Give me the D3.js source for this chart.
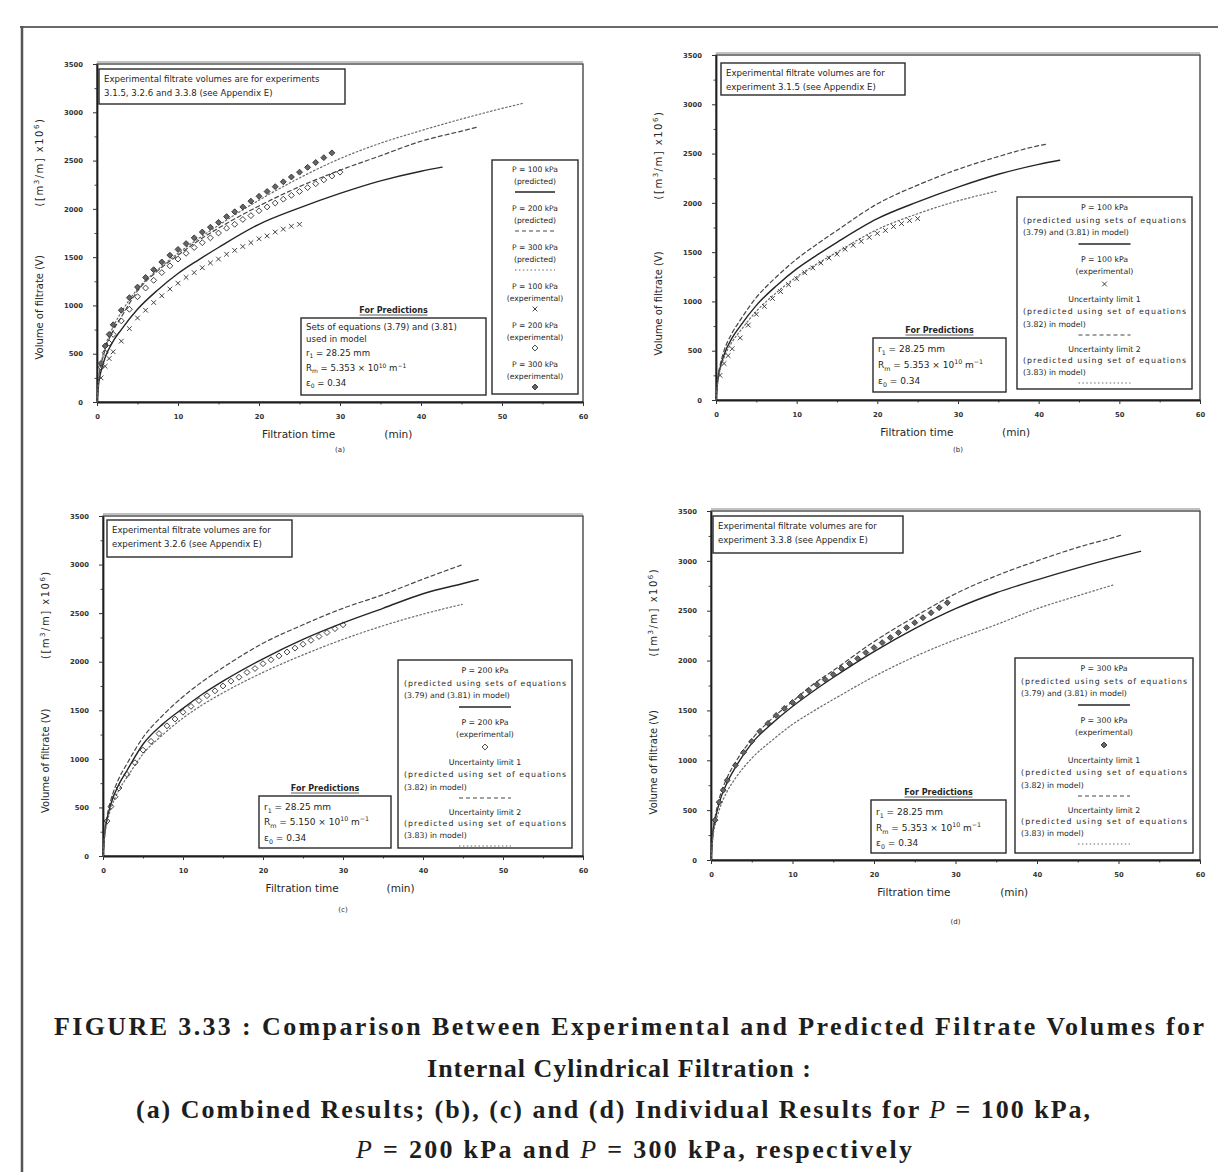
<!DOCTYPE html>
<html>
<head>
<meta charset="utf-8">
<script src="https://cdn.jsdelivr.net/npm/d3@7"></script>
<style>
  body { margin: 0; background: #fff; }
  svg { display: block; }
  .caption { font-family: 'Liberation Serif', 'Times New Roman', serif; }
</style>
</head>
<body>
<svg id="fig" width="1218" height="1172"></svg>
<script>
// ---------- axis ticks ----------
const timeTicks = [0, 10, 20, 30, 40, 50, 60];
const minorTimeTicks = [5, 15, 25, 35, 45, 55];
const volumeTicks = [0, 500, 1000, 1500, 2000, 2500, 3000, 3500];
const minorVolumeTicks = [250, 750, 1250, 1750, 2250, 2750, 3250];
const pressures = [100, 200, 300];

// ---------- P = 100 kPa (time in min, volume in [m3/m] x 1e6) ----------
const tPred100 = [0, 0.25, 0.5, 1, 2, 3, 5, 7.5, 10, 12.5, 15, 20, 25, 30, 35, 40, 42.6];
const vPred100 = [0, 220, 320, 460, 630, 750, 960, 1160, 1330, 1470, 1600, 1840, 2010, 2160, 2290, 2390, 2432];
const tLim1_100 = [0, 0.25, 0.5, 1, 2, 3, 5, 7.5, 10, 12.5, 15, 20, 25, 30, 35, 40, 40.9];
const vLim1_100 = [0, 240, 350, 500, 680, 810, 1040, 1250, 1430, 1580, 1720, 1990, 2180, 2340, 2470, 2580, 2595];
const tLim2_100 = [0, 0.25, 0.5, 1, 2, 3, 5, 7.5, 10, 12.5, 15, 20, 25, 30, 34.7];
const vLim2_100 = [0, 200, 300, 430, 590, 700, 900, 1090, 1250, 1380, 1500, 1730, 1890, 2020, 2116];
const tExp100 = [0.5, 1, 1.5, 2, 3, 4, 5, 6, 7, 8, 9, 10, 11, 12, 13, 14, 15, 16, 17, 18, 19, 20, 21, 22, 23, 24, 25];
const vExp100 = [250, 370, 450, 520, 630, 760, 870, 950, 1030, 1100, 1170, 1230, 1290, 1340, 1390, 1440, 1480, 1530, 1570, 1610, 1650, 1690, 1720, 1760, 1790, 1820, 1840];

// ---------- P = 200 kPa ----------
const tPred200 = [0, 0.25, 0.5, 1, 2, 3, 5, 7.5, 10, 12.5, 15, 20, 25, 30, 35, 40, 45, 46.9];
const vPred200 = [0, 260, 380, 540, 740, 880, 1150, 1360, 1520, 1670, 1800, 2030, 2230, 2400, 2550, 2700, 2805, 2845];
const tLim1_200 = [0, 0.25, 0.5, 1, 2, 3, 5, 7.5, 10, 12.5, 15, 20, 25, 30, 35, 40, 44.8];
const vLim1_200 = [0, 280, 410, 580, 800, 950, 1220, 1450, 1640, 1800, 1940, 2190, 2380, 2550, 2690, 2850, 2995];
const tLim2_200 = [0, 0.25, 0.5, 1, 2, 3, 5, 7.5, 10, 12.5, 15, 20, 25, 30, 35, 40, 44.9];
const vLim2_200 = [0, 230, 340, 490, 680, 810, 1050, 1250, 1420, 1560, 1680, 1890, 2070, 2230, 2370, 2490, 2590];
const tExp200 = [0.5, 1, 1.5, 2, 3, 4, 5, 6, 7, 8, 9, 10, 11, 12, 13, 14, 15, 16, 17, 18, 19, 20, 21, 22, 23, 24, 25, 26, 27, 28, 29, 30];
const vExp200 = [360, 510, 610, 700, 840, 960, 1090, 1180, 1260, 1340, 1410, 1480, 1540, 1600, 1650, 1700, 1750, 1800, 1840, 1890, 1930, 1980, 2020, 2060, 2100, 2140, 2180, 2220, 2260, 2300, 2340, 2380];

// ---------- P = 300 kPa ----------
const tPred300 = [0, 0.25, 0.5, 1, 2, 3, 5, 7.5, 10, 12.5, 15, 20, 25, 30, 35, 40, 45, 50, 52.7];
const vPred300 = [0, 280, 400, 570, 780, 930, 1170, 1370, 1540, 1690, 1830, 2090, 2320, 2520, 2680, 2810, 2930, 3040, 3095];
const tLim1_300 = [0, 0.25, 0.5, 1, 2, 3, 5, 7.5, 10, 12.5, 15, 20, 25, 30, 35, 40, 45, 50, 50.5];
const vLim1_300 = [0, 300, 430, 610, 830, 980, 1210, 1420, 1590, 1760, 1900, 2190, 2440, 2670, 2850, 3000, 3135, 3250, 3263];
const tLim2_300 = [0, 0.25, 0.5, 1, 2, 3, 5, 7.5, 10, 12.5, 15, 20, 25, 30, 35, 40, 45, 49.3];
const vLim2_300 = [0, 240, 350, 500, 690, 820, 1020, 1200, 1360, 1490, 1610, 1840, 2040, 2210, 2360, 2520, 2650, 2757];
const tExp300 = [0.5, 1, 1.5, 2, 3, 4, 5, 6, 7, 8, 9, 10, 11, 12, 13, 14, 15, 16, 17, 18, 19, 20, 21, 22, 23, 24, 25, 26, 27, 28, 29];
const vExp300 = [400, 580, 700, 800, 950, 1080, 1190, 1290, 1370, 1450, 1520, 1580, 1640, 1700, 1760, 1810, 1860, 1920, 1970, 2020, 2080, 2130, 2180, 2230, 2280, 2330, 2380, 2430, 2480, 2530, 2580];

// ---------- drawing ----------
const svg = d3.select('#fig');
const INK = '#262626';
const FONT = '"DejaVu Sans", sans-serif';

const lineStyles = {
  solid:  { stroke: '#252525', width: 1.4, dash: null },
  dashed: { stroke: '#474747', width: 1.2, dash: '4,3' },
  dotted: { stroke: '#6a6a6a', width: 1.2, dash: '1.5,2.4' }
};
const markerStyles = {
  cross:         { type: d3.symbolTimes,    size: 16, fill: 'none' },
  diamond:       { type: d3.symbolDiamond2, size: 22, fill: 'none' },
  diamondFilled: { type: d3.symbolDiamond2, size: 22, fill: '#666' }
};

function rich(g, x, y, parts, anchor, size, weight) {
  const t = g.append('text')
    .attr('x', x).attr('y', y)
    .attr('text-anchor', anchor || 'start')
    .attr('font-size', size)
    .attr('font-family', FONT)
    .attr('font-weight', weight || 'normal')
    .attr('fill', INK);
  let shift = 0;
  parts.forEach(p => {
    if (typeof p === 'string') {
      t.append('tspan').attr('dy', -shift).text(p);
      shift = 0;
    } else {
      const s = p.sup ? -size * 0.4 : size * 0.28;
      t.append('tspan').attr('dy', s - shift).attr('font-size', size * 0.7).text(p.sup || p.sub);
      shift = s;
    }
  });
  return t;
}

function drawLine(g, x, y, t, v, styleKey) {
  const st = lineStyles[styleKey];
  const gen = d3.line().x((d, i) => x(t[i])).y((d, i) => y(v[i])).curve(d3.curveMonotoneX);
  g.append('path').datum(v).attr('d', gen)
    .attr('fill', 'none').attr('stroke', st.stroke).attr('stroke-width', st.width)
    .attr('stroke-dasharray', st.dash).attr('stroke-linecap', 'round');
}

function drawMarkers(g, x, y, t, v, key) {
  const m = markerStyles[key];
  const sym = d3.symbol().type(m.type).size(m.size);
  g.append('g').selectAll('path').data(v).join('path')
    .attr('d', sym)
    .attr('transform', (d, i) => `translate(${x(t[i])},${y(d)})`)
    .attr('fill', m.fill).attr('stroke', '#2e2e2e').attr('stroke-width', 0.9);
}

function sample(g, cx, cy, spec, w) {
  if (spec.line) {
    const st = lineStyles[spec.line];
    g.append('line').attr('x1', cx - w / 2).attr('x2', cx + w / 2).attr('y1', cy).attr('y2', cy)
      .attr('stroke', st.stroke).attr('stroke-width', st.width).attr('stroke-dasharray', st.dash);
  } else {
    const m = markerStyles[spec.marker];
    g.append('path').attr('d', d3.symbol().type(m.type).size(m.size)())
      .attr('transform', `translate(${cx},${cy})`)
      .attr('fill', m.fill).attr('stroke', '#2e2e2e').attr('stroke-width', 0.9);
  }
}

function box(g, b, sw) {
  g.append('rect').attr('x', b.x).attr('y', b.y).attr('width', b.w).attr('height', b.h)
    .attr('fill', '#fff').attr('stroke', '#2a2a2a').attr('stroke-width', sw || 1.2);
}

function longLegend(P, markerKey) {
  return [
    { text: `P = ${P} kPa`, y: 13, a: 'c' },
    { text: '(predicted using sets of equations', y: 26, a: 'c', fill: true },
    { text: '(3.79) and (3.81) in model)', y: 38, a: 'l' },
    { line: 'solid', y: 47 },
    { text: `P = ${P} kPa`, y: 65, a: 'c' },
    { text: '(experimental)', y: 77, a: 'c' },
    { marker: markerKey, y: 87 },
    { text: 'Uncertainty limit 1', y: 105, a: 'c' },
    { text: '(predicted using set of equations', y: 117, a: 'c', fill: true },
    { text: '(3.82) in model)', y: 130, a: 'l' },
    { line: 'dashed', y: 138 },
    { text: 'Uncertainty limit 2', y: 155, a: 'c' },
    { text: '(predicted using set of equations', y: 166, a: 'c', fill: true },
    { text: '(3.83) in model)', y: 178, a: 'l' },
    { line: 'dotted', y: 186 }
  ];
}

function combinedLegend() {
  const rows = [];
  const entries = [
    [pressures[0], '(predicted)', { line: 'solid' }],
    [pressures[1], '(predicted)', { line: 'dashed' }],
    [pressures[2], '(predicted)', { line: 'dotted' }],
    [pressures[0], '(experimental)', { marker: 'cross' }],
    [pressures[1], '(experimental)', { marker: 'diamond' }],
    [pressures[2], '(experimental)', { marker: 'diamondFilled' }]
  ];
  entries.forEach((e, i) => {
    const base = i * 39;
    rows.push({ text: `P = ${e[0]} kPa`, y: base + 12, a: 'c' });
    rows.push({ text: e[1], y: base + 24, a: 'c' });
    rows.push(Object.assign({ y: base + 32 }, e[2]));
  });
  return rows;
}

function paramLines(rm, withModel) {
  const lines = [];
  if (withModel) {
    lines.push(['Sets of equations (3.79) and (3.81)']);
    lines.push(['used in model']);
  }
  lines.push(['r', { sub: '1' }, ' = 28.25 mm']);
  lines.push(['R', { sub: 'm' }, ` = ${rm} × 10`, { sup: '10' }, ' m', { sup: '−1' }]);
  lines.push(['ε', { sub: '0' }, ' = 0.34']);
  return lines;
}

const panels = [
  {
    left: 97, right: 583, top: 64, bottom: 402, caption: '(a)', capY: 452,
    lines: [[tPred100, vPred100, 'solid'], [tPred200, vPred200, 'dashed'], [tPred300, vPred300, 'dotted']],
    markers: [[tExp100, vExp100, 'cross'], [tExp200, vExp200, 'diamond'], [tExp300, vExp300, 'diamondFilled']],
    note: { x: 99, y: 69, w: 246, h: 35, lines: ['Experimental filtrate volumes are for experiments', '3.1.5, 3.2.6 and 3.3.8 (see Appendix E)'] },
    params: { x: 301, y: 318, w: 185, h: 77, ys: [12, 24, 38, 53, 68], fs: 8.6, lines: paramLines('5.353', true) },
    legend: { x: 492, y: 160, w: 86, h: 234, rows: combinedLegend(), sw: 40, fs: 7.6 }
  },
  {
    left: 716, right: 1200, top: 55, bottom: 400, caption: '(b)', capY: 452,
    lines: [[tPred100, vPred100, 'solid'], [tLim1_100, vLim1_100, 'dashed'], [tLim2_100, vLim2_100, 'dotted']],
    markers: [[tExp100, vExp100, 'cross']],
    note: { x: 721, y: 63, w: 184, h: 32, lines: ['Experimental filtrate volumes are for', 'experiment 3.1.5 (see Appendix E)'] },
    params: { x: 873, y: 338, w: 133, h: 54, ys: [14, 30, 46], fs: 9, lines: paramLines('5.353', false) },
    legend: { x: 1017, y: 197, w: 175, h: 192, rows: longLegend(pressures[0], 'cross'), sw: 52, fs: 7.8 }
  },
  {
    left: 103, right: 583, top: 516, bottom: 856, caption: '(c)', capY: 912,
    lines: [[tPred200, vPred200, 'solid'], [tLim1_200, vLim1_200, 'dashed'], [tLim2_200, vLim2_200, 'dotted']],
    markers: [[tExp200, vExp200, 'diamond']],
    note: { x: 107, y: 520, w: 185, h: 37, lines: ['Experimental filtrate volumes are for', 'experiment 3.2.6 (see Appendix E)'] },
    params: { x: 259, y: 796, w: 132, h: 52, ys: [14, 29, 45], fs: 9, lines: paramLines('5.150', false) },
    legend: { x: 398, y: 660, w: 174, h: 188, rows: longLegend(pressures[1], 'diamond'), sw: 52, fs: 7.8 }
  },
  {
    left: 711, right: 1200, top: 511, bottom: 860, caption: '(d)', capY: 924,
    lines: [[tPred300, vPred300, 'solid'], [tLim1_300, vLim1_300, 'dashed'], [tLim2_300, vLim2_300, 'dotted']],
    markers: [[tExp300, vExp300, 'diamondFilled']],
    note: { x: 713, y: 516, w: 190, h: 37, lines: ['Experimental filtrate volumes are for', 'experiment 3.3.8 (see Appendix E)'] },
    params: { x: 871, y: 800, w: 135, h: 53, ys: [15, 31, 46], fs: 9, lines: paramLines('5.353', false) },
    legend: { x: 1015, y: 658, w: 178, h: 195, rows: longLegend(pressures[2], 'diamondFilled'), sw: 52, fs: 7.8 }
  }
];

function styleAxis(sel, domainWidth) {
  sel.select('.domain').attr('stroke', '#1f1f1f').attr('stroke-width', domainWidth);
  sel.selectAll('.tick line').attr('stroke', '#333').attr('stroke-width', 1);
  sel.selectAll('.tick text').attr('font-size', 6.8).attr('font-weight', 'bold')
    .attr('font-family', FONT).attr('fill', '#333');
}

function drawPanel(p) {
  const g = svg.append('g');
  const x = d3.scaleLinear().domain([0, 60]).range([p.left, p.right]);
  const y = d3.scaleLinear().domain([0, 3500]).range([p.bottom, p.top]);

  // plot frame
  g.append('rect').attr('x', p.left).attr('y', p.top)
    .attr('width', p.right - p.left).attr('height', p.bottom - p.top)
    .attr('fill', 'none').attr('stroke', '#3a3a3a').attr('stroke-width', 1.3);
  g.append('line').attr('x1', p.left).attr('x2', p.right).attr('y1', p.top - 2).attr('y2', p.top - 2)
    .attr('stroke', '#666').attr('stroke-width', 0.8);

  // minor ticks
  g.append('g').attr('transform', `translate(0,${p.bottom})`)
    .call(d3.axisBottom(x).tickValues(minorTimeTicks).tickSize(2.5).tickFormat(''))
    .call(s => { s.select('.domain').remove(); s.selectAll('.tick line').attr('stroke', '#444'); });
  g.append('g').attr('transform', `translate(${p.left},0)`)
    .call(d3.axisLeft(y).tickValues(minorVolumeTicks).tickSize(2.5).tickFormat(''))
    .call(s => { s.select('.domain').remove(); s.selectAll('.tick line').attr('stroke', '#444'); });

  // main axes
  g.append('g').attr('transform', `translate(0,${p.bottom})`)
    .call(d3.axisBottom(x).tickValues(timeTicks).tickFormat(d3.format('d'))
      .tickSize(4).tickSizeOuter(0).tickPadding(8))
    .call(s => styleAxis(s, 1.8));
  g.append('g').attr('transform', `translate(${p.left},0)`)
    .call(d3.axisLeft(y).tickValues(volumeTicks).tickFormat(d3.format('d'))
      .tickSize(4).tickSizeOuter(0).tickPadding(10))
    .call(s => styleAxis(s, 1.8));

  // axis titles
  const h = p.bottom - p.top, w = p.right - p.left;
  const yx = p.left - 54;
  rich(g, 0, 0, ['Volume of filtrate (V)'], 'middle', 10)
    .attr('transform', `translate(${yx},${p.bottom - 0.28 * h}) rotate(-90)`);
  rich(g, 0, 0, ['([m', { sup: '3' }, '/m]  x10', { sup: '6' }, ')'], 'middle', 10)
    .attr('letter-spacing', 1.5)
    .attr('transform', `translate(${yx},${p.top + 0.29 * h}) rotate(-90)`);
  rich(g, p.left + 0.415 * w, p.bottom + 36, ['Filtration time'], 'middle', 10.5);
  rich(g, p.left + 0.62 * w, p.bottom + 36, ['(min)'], 'middle', 10.5);
  rich(g, p.left + 0.5 * w, p.capY, [p.caption], 'middle', 7);

  // curves and experimental points
  p.lines.forEach(l => drawLine(g, x, y, l[0], l[1], l[2]));
  p.markers.forEach(m => drawMarkers(g, x, y, m[0], m[1], m[2]));

  // note box
  box(g, p.note, 1.4);
  p.note.lines.forEach((s, i) => rich(g, p.note.x + 5, p.note.y + 13 + i * 14, [s], 'start', 8.6));

  // parameter box
  const pb = p.params;
  rich(g, pb.x + pb.w / 2, pb.y - 5, ['For Predictions'], 'middle', 8, 'bold');
  g.append('line').attr('x1', pb.x + pb.w / 2 - 34).attr('x2', pb.x + pb.w / 2 + 34)
    .attr('y1', pb.y - 3).attr('y2', pb.y - 3).attr('stroke', '#333').attr('stroke-width', 0.8);
  box(g, pb, 1.4);
  pb.lines.forEach((parts, i) => rich(g, pb.x + 5, pb.y + pb.ys[i], parts, 'start', pb.fs));

  // legend
  const lg = p.legend;
  box(g, lg, 1.4);
  const cx = lg.x + lg.w / 2;
  lg.rows.forEach(r => {
    if (r.text) {
      const t = r.a === 'l'
        ? rich(g, lg.x + 6, lg.y + r.y, [r.text], 'start', lg.fs)
        : rich(g, cx, lg.y + r.y, [r.text], 'middle', lg.fs);
      if (r.fill) t.attr('textLength', lg.w - 12).attr('lengthAdjust', 'spacing');
    } else {
      sample(g, cx, lg.y + r.y, r, lg.sw);
    }
  });
}

panels.forEach(drawPanel);

// page edge of the printed sheet
svg.append('line').attr('x1', 20).attr('x2', 1218).attr('y1', 27).attr('y2', 27)
  .attr('stroke', '#6a6a6a').attr('stroke-width', 2);
svg.append('line').attr('x1', 22).attr('x2', 22).attr('y1', 26).attr('y2', 1172)
  .attr('stroke', '#555').attr('stroke-width', 2.5);

// figure caption
const caption = [
  { y: 1035, x: 54, len: 1150, parts: ['FIGURE 3.33  :  Comparison Between Experimental and Predicted Filtrate Volumes for'] },
  { y: 1077, x: 427, len: 384, parts: ['Internal Cylindrical Filtration :'] },
  { y: 1118, x: 136, len: 954, parts: ['(a) Combined Results; (b), (c) and (d) Individual Results for ', { it: 'P' }, ' = 100 kPa,'] },
  { y: 1158, x: 356, len: 556, parts: [{ it: 'P' }, ' = 200 kPa and ', { it: 'P' }, ' = 300 kPa, respectively'] }
];
caption.forEach(c => {
  const t = svg.append('text').attr('class', 'caption').attr('x', c.x).attr('y', c.y)
    .attr('font-size', 26).attr('font-weight', 'bold')
    .attr('fill', '#1e1e1e').attr('textLength', c.len).attr('lengthAdjust', 'spacing');
  c.parts.forEach(pt => {
    if (typeof pt === 'string') t.append('tspan').text(pt);
    else t.append('tspan').attr('font-style', 'italic').attr('font-weight', 'normal').text(pt.it);
  });
});
</script>
</body>
</html>
